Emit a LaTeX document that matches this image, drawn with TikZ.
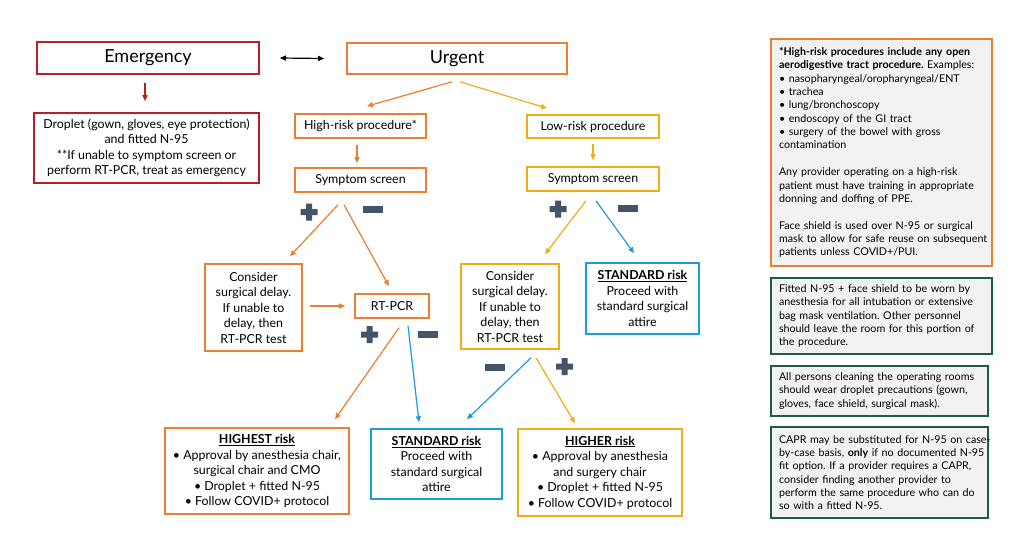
\documentclass[tikz,border=0pt]{standalone}
\usepackage{fontspec}
\setmainfont{Lato}
\frenchspacing
\usetikzlibrary{arrows.meta,calc}
\definecolor{cOrange}{HTML}{ED7D31}
\definecolor{cGold}{HTML}{F2AC16}
\definecolor{cBlue}{HTML}{1E9AE0}
\definecolor{cRed}{HTML}{B81E2A}
\definecolor{cGreen}{HTML}{1F5C46}
\definecolor{cSlate}{HTML}{44546A}
\definecolor{cPanel}{HTML}{F2F2F2}
\newcommand\plusmark[2]{\fill[cSlate,shift={(#1,#2)}] (-8.5,-3) rectangle (8.5,3) (-3,-8.5) rectangle (3,8.5);}
\newcommand\minusmark[2]{\fill[cSlate,shift={(#1,#2)}] (-10,-3.5) rectangle (10,3.5);}
\newcommand\pl[1]{\mbox{#1}\\}
\tikzset{
  box/.style={draw, line width=1.6pt, fill=white, inner sep=0pt, align=center,
    font=\fontsize{12.4}{15.5}\selectfont},
  big/.style={font=\fontsize{18}{20}\selectfont},
  panel/.style={draw, line width=1.8pt, fill=cPanel, inner xsep=8pt, inner ysep=0pt,
    align=left, font=\fontsize{10.7}{13.35}\selectfont},
  conn/.style={line width=1.2pt, -{Triangle[length=6pt,width=5pt]}},
}
\begin{document}
\begin{tikzpicture}[x=1pt,y=-1pt]
\useasboundingbox (0,0) rectangle (1024,552);
\fill[white] (0,0) rectangle (1024,552);

% left column
\node[box,big,draw=cRed,minimum width=222,minimum height=32] (emerg) at (148,58) {Emergency};
\node[box,draw=cRed,minimum width=225,minimum height=70] (drop) at (146.5,148)
  {Droplet (gown, gloves, eye protection)\\and fitted N-95\\**If unable to symptom screen or\\perform RT-PCR, treat as emergency};

% main tree
\node[box,big,draw=cOrange,minimum width=220,minimum height=31] (urgent) at (457,58.5) {Urgent};
\node[box,draw=cOrange,minimum width=131,minimum height=24] (high) at (360.5,126) {High-risk procedure*};
\node[box,draw=cOrange,minimum width=131,minimum height=24] (sympL) at (360.5,180) {Symptom screen};
\node[box,draw=cGold,minimum width=132,minimum height=23] (low) at (593,126.5) {Low-risk procedure};
\node[box,draw=cGold,minimum width=132,minimum height=24] (sympR) at (593,179) {Symptom screen};
\node[box,draw=cOrange,minimum width=97,minimum height=87] (consL) at (253.5,307.5)
  {Consider\\surgical delay.\\If unable to\\delay, then\\RT-PCR test};
\node[box,draw=cOrange,minimum width=74,minimum height=24] (rtpcr) at (392,306) {RT-PCR};
\node[box,draw=cGold,minimum width=98,minimum height=85] (consR) at (510,306.5)
  {Consider\\surgical delay.\\If unable to\\delay, then\\RT-PCR test};
\node[box,draw=cBlue,minimum width=113,minimum height=71] (stdT) at (642.5,298.5)
  {\underline{\textbf{STANDARD risk}}\\Proceed with\\standard surgical\\attire};
\node[box,draw=cOrange,minimum width=184,minimum height=86] (highest) at (257,471)
  {\underline{\textbf{HIGHEST risk}}\\• Approval by anesthesia chair,\\surgical chair and CMO\\• Droplet + fitted N-95\\• Follow COVID+ protocol};
\node[box,draw=cBlue,minimum width=131,minimum height=70] (stdB) at (436.5,464)
  {\underline{\textbf{STANDARD risk}}\\Proceed with\\standard surgical\\attire};
\node[box,draw=cGold,minimum width=164,minimum height=87] (higher) at (600,472.5)
  {\underline{\textbf{HIGHER risk}}\\• Approval by anesthesia\\and surgery chair\\• Droplet + fitted N-95\\• Follow COVID+ protocol};

% side panels
\node[panel,draw=cOrange,text width=205,minimum height=227] (p1) at (881.5,152.5)
  {\pl{\textbf{*High-risk procedures include any open}}\pl{\textbf{aerodigestive tract procedure.} Examples:}\pl{• nasopharyngeal/oropharyngeal/ENT}\pl{• trachea}\pl{• lung/bronchoscopy}\pl{• endoscopy of the GI tract}\pl{• surgery of the bowel with gross}\pl{contamination}\pl{}\pl{Any provider operating on a high-risk}\pl{patient must have training in appropriate}\pl{donning and doffing of PPE.}\pl{}\pl{Face shield is used over N-95 or surgical}\pl{mask to allow for safe reuse on subsequent}\mbox{patients unless COVID+/PUI.}};
\node[panel,draw=cGreen,text width=205,minimum height=76] (p2) at (881.5,316)
  {\pl{Fitted N-95 + face shield to be worn by}\pl{anesthesia for all intubation or extensive}\pl{bag mask ventilation. Other personnel}\pl{should leave the room for this portion of}\mbox{the procedure.}};
\node[panel,draw=cGreen,text width=201,minimum height=50] (p3) at (879.5,391)
  {\pl{All persons cleaning the operating rooms}\pl{should wear droplet precautions (gown,}\mbox{gloves, face shield, surgical mask).}};
\node[panel,draw=cGreen,text width=201,minimum height=91] (p4) at (879.5,472.5)
  {\pl{CAPR may be substituted for N-95 on case-}\pl{by-case basis, \textbf{only} if no documented N-95}\pl{fit option. If a provider requires a CAPR,}\pl{consider finding another provider to}\pl{perform the same procedure who can do}\mbox{so with a fitted N-95.}};

% connectors
\draw[line width=1.2pt,{Triangle[length=6pt,width=5pt]}-{Triangle[length=6pt,width=5pt]}]
  ([shift={(20,0)}]emerg.east) -- ([shift={(-22,0)}]urgent.west);
\draw[conn,cRed] ([shift={(-3,8)}]emerg.south) -- ([shift={(-1.5,-11)}]drop.north);
\draw[conn,cOrange] ([shift={(-5,7)}]urgent.south) -- ([shift={(6.5,-7)}]high.north);
\draw[conn,cGold] ([shift={(3,7)}]urgent.south) -- ([shift={(-46,-6)}]low.north);
\draw[conn,cOrange] ([shift={(-3.5,6)}]high.south) -- ([shift={(-3.5,-4)}]sympL.north);
\draw[conn,cGold] ([shift={(0,5)}]low.south) -- ([shift={(0,-6)}]sympR.north);
\draw[conn,cOrange] ([shift={(-22.5,12)}]sympL.south) -- ([shift={(36.5,-7)}]consL.north);
\draw[conn,cOrange] ([shift={(-16.5,12)}]sympL.south) -- ([shift={(-3,-7)}]rtpcr.north);
\draw[conn,cOrange] ([shift={(7,-1.5)}]consL.east) -- ([shift={(-9,0)}]rtpcr.west);
\draw[conn,cOrange] ([shift={(7,9)}]rtpcr.south) -- ([shift={(78,-8)}]highest.north);
\draw[conn,cBlue] ([shift={(16,7)}]rtpcr.south) -- ([shift={(-17.5,-6)}]stdB.north);
\draw[conn,cGold] ([shift={(-7,9)}]sympR.south) -- ([shift={(35,-9)}]consR.north);
\draw[conn,cBlue] ([shift={(3,9)}]sympR.south) -- ([shift={(-8.5,-9)}]stdT.north);
\draw[conn,cBlue] ([shift={(21,8)}]consR.south) -- ([shift={(30.5,-9)}]stdB.north);
\draw[conn,cGold] ([shift={(26,8)}]consR.south) -- ([shift={(-25,-5)}]higher.north);

% plus / minus marks
\plusmark{309}{212}
\minusmark{373}{209.5}
\plusmark{558}{209}
\minusmark{628}{208.5}
\plusmark{369.5}{334.5}
\minusmark{427.5}{334.5}
\minusmark{494.5}{367.5}
\plusmark{564.5}{366.5}
\end{tikzpicture}
\end{document}
